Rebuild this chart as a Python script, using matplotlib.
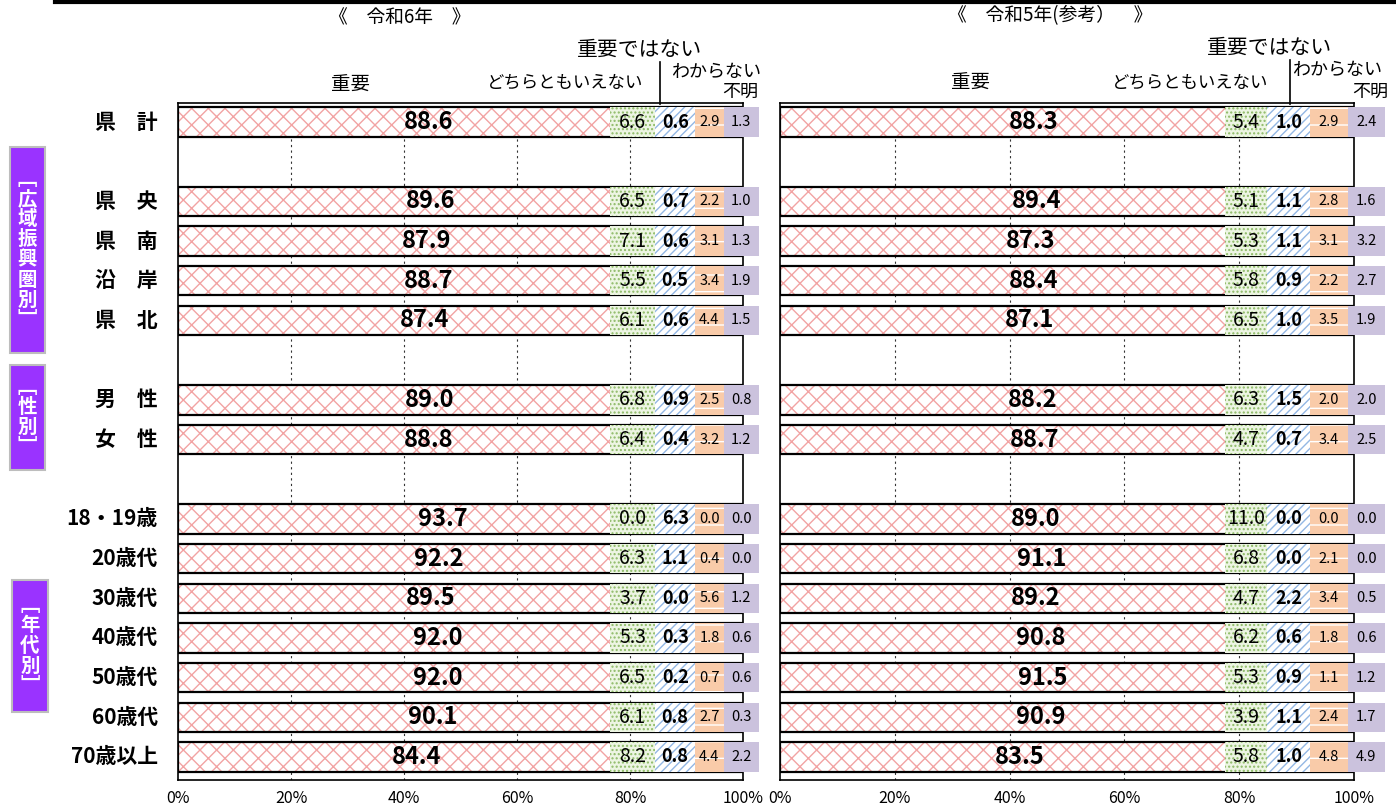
import numpy as np
import matplotlib.pyplot as plt
from matplotlib.patches import Rectangle
from matplotlib.lines import Line2D
import matplotlib.transforms as mtrans

plt.rcParams['font.family'] = ['Noto Sans CJK JP', 'DejaVu Sans']
plt.rcParams['hatch.linewidth'] = 1.0

rows = ['県　計', '', '県　央', '県　南', '沿　岸', '県　北', '', '男　性', '女　性', '',
        '18・19歳', '20歳代', '30歳代', '40歳代', '50歳代', '60歳代', '70歳以上']
series = ['重要', 'どちらともいえない', '重要ではない', 'わからない', '不明']
nan = np.nan

# 令和6年
r6_important = [88.6, nan, 89.6, 87.9, 88.7, 87.4, nan, 89.0, 88.8, nan, 93.7, 92.2, 89.5, 92.0, 92.0, 90.1, 84.4]
r6_neither   = [6.6, nan, 6.5, 7.1, 5.5, 6.1, nan, 6.8, 6.4, nan, 0.0, 6.3, 3.7, 5.3, 6.5, 6.1, 8.2]
r6_not_imp   = [0.6, nan, 0.7, 0.6, 0.5, 0.6, nan, 0.9, 0.4, nan, 6.3, 1.1, 0.0, 0.3, 0.2, 0.8, 0.8]
r6_dontknow  = [2.9, nan, 2.2, 3.1, 3.4, 4.4, nan, 2.5, 3.2, nan, 0.0, 0.4, 5.6, 1.8, 0.7, 2.7, 4.4]
r6_unknown   = [1.3, nan, 1.0, 1.3, 1.9, 1.5, nan, 0.8, 1.2, nan, 0.0, 0.0, 1.2, 0.6, 0.6, 0.3, 2.2]

# 令和5年(参考)
r5_important = [88.3, nan, 89.4, 87.3, 88.4, 87.1, nan, 88.2, 88.7, nan, 89.0, 91.1, 89.2, 90.8, 91.5, 90.9, 83.5]
r5_neither   = [5.4, nan, 5.1, 5.3, 5.8, 6.5, nan, 6.3, 4.7, nan, 11.0, 6.8, 4.7, 6.2, 5.3, 3.9, 5.8]
r5_not_imp   = [1.0, nan, 1.1, 1.1, 0.9, 1.0, nan, 1.5, 0.7, nan, 0.0, 0.0, 2.2, 0.6, 0.9, 1.1, 1.0]
r5_dontknow  = [2.9, nan, 2.8, 3.1, 2.2, 3.5, nan, 2.0, 3.4, nan, 0.0, 2.1, 3.4, 1.8, 1.1, 2.4, 4.8]
r5_unknown   = [2.4, nan, 1.6, 3.2, 2.7, 1.9, nan, 2.0, 2.5, nan, 0.0, 0.0, 0.5, 0.6, 1.2, 1.7, 4.9]

r6 = np.array([r6_important, r6_neither, r6_not_imp, r6_dontknow, r6_unknown])
r5 = np.array([r5_important, r5_neither, r5_not_imp, r5_dontknow, r5_unknown])

# face colour, hatch, hatch colour
styles = [('white', 'xx', '#F2A3A3'),
          ('#EDF5E3', '....', '#8DBA66'),
          ('white', '////', '#93B7E4'),
          ('#F9CBA9', '-', 'white'),
          ('#CBC2DD', None, '#CBC2DD')]
label_fonts = [dict(size=17, weight='bold'), dict(size=14), dict(size=13, weight='bold'),
               dict(size=10.5), dict(size=10.5)]

W, H = 1396, 809
fig = plt.figure(figsize=(W / 100, H / 100), dpi=100)


def px(x, y):
    return x / W, 1 - y / H


bar_h = 0.74


def draw_panel(ax, data, cols):
    y = np.arange(len(rows))
    ok = ~np.isnan(data[0])
    left = np.zeros(len(rows))
    for k in range(5):
        face, hatch, hc = styles[k]
        ax.barh(y[ok], data[k][ok], left=left[ok], height=bar_h, color=face,
                edgecolor=hc, hatch=hatch, linewidth=0, zorder=2)
        left = left + np.nan_to_num(data[k])
    ax.barh(y[ok], left[ok], height=bar_h, fill=False, edgecolor='black',
            linewidth=1.6, zorder=3)
    for i in y[ok]:
        ax.text(data[0][i] / 2, i, f'{data[0][i]:.1f}', ha='center', va='center',
                zorder=5, **label_fonts[0])
        for k in range(1, 5):
            face, hatch, hc = styles[k]
            x0, x1 = cols[k - 1]
            ax.add_patch(Rectangle((x0, i - bar_h / 2), x1 - x0, bar_h, facecolor=face,
                                   edgecolor=hc, hatch=hatch, linewidth=0,
                                   clip_on=False, zorder=4))
            ax.text((x0 + x1) / 2, i, f'{data[k][i]:.1f}', ha='center', va='center',
                    zorder=5, clip_on=False, **label_fonts[k])
    ax.set_xlim(0, 100)
    ax.set_ylim(len(rows) - 0.42, -0.48)
    ax.set_xticks([0, 20, 40, 60, 80, 100])
    ax.set_xticklabels(['0%', '20%', '40%', '60%', '80%', '100%'])
    ax.set_yticks([])
    ax.tick_params(axis='x', length=0, pad=7, labelsize=11.5)
    for v in [20, 40, 60, 80]:
        ax.axvline(v, color='#333333', linestyle=(0, (2, 3)), linewidth=0.8, zorder=1)
    for s in ax.spines.values():
        s.set_linewidth(1.2)


ax1 = fig.add_axes([178 / W, 1 - 780 / H, (743 - 178) / W, (780 - 103) / H])
ax2 = fig.add_axes([780 / W, 1 - 780 / H, (1354 - 780) / W, (780 - 103) / H])
draw_panel(ax1, r6, [(76.5, 84.5), (84.5, 91.5), (91.5, 96.6), (96.6, 102.8)])
draw_panel(ax2, r5, [(77.5, 84.9), (84.9, 92.3), (92.3, 98.9), (98.9, 105.4)])

# row labels
tr = mtrans.blended_transform_factory(fig.transFigure, ax1.transData)
for i, name in enumerate(rows):
    if name:
        fig.text(158 / W, i, name, transform=tr, ha='right', va='center',
                 fontsize=15, weight='bold')

# group boxes
groups = [('広域振興圏別', 10, 147, 45, 353), ('性別', 10, 365, 45, 470), ('年代別', 12, 580, 48, 712)]
for g, x0, y0, x1, y1 in groups:
    fx, fy = px(x0, y1)
    fig.add_artist(Rectangle((fx, fy), (x1 - x0) / W, (y1 - y0) / H, transform=fig.transFigure,
                             facecolor='#9A33FF', edgecolor='#BDBDBD', linewidth=1.5))
    cx, cy = px((x0 + x1) / 2, (y0 + y1) / 2)
    fig.text(cx, cy, '\n'.join('﹇' + g + '﹈'), ha='center', va='center', color='white',
             fontsize=14, weight='bold', linespacing=1.08)

# titles
fig.text(*px(400, 18), '《　令和6年　》', ha='center', va='center', fontsize=13.5)
fig.text(*px(1050, 16), '《　令和5年(参考）　》', ha='center', va='center', fontsize=13.5)
fig.add_artist(Line2D([55 / W, 1], [1 - 2 / H, 1 - 2 / H], transform=fig.transFigure,
                      color='black', linewidth=3))

# category headings
headers = [
    [(350, 85, 14), (565, 83, 12.5), (640, 50, 15), (716, 72, 13), (740, 92, 13)],
    [(970, 83, 14), (1190, 83, 12.5), (1270, 48, 15), (1337, 70, 13), (1370, 92, 13)],
]
for hs in headers:
    for name, (x, y, fs) in zip(series, hs):
        fig.text(*px(x, y), name, ha='center', va='center', fontsize=fs)
for x, y0 in [(660, 62), (1290, 60)]:
    fig.add_artist(Line2D([x / W, x / W], [1 - y0 / H, 1 - 104 / H], transform=fig.transFigure,
                          color='black', linewidth=1.2))

fig.savefig('out.png', dpi=100)
